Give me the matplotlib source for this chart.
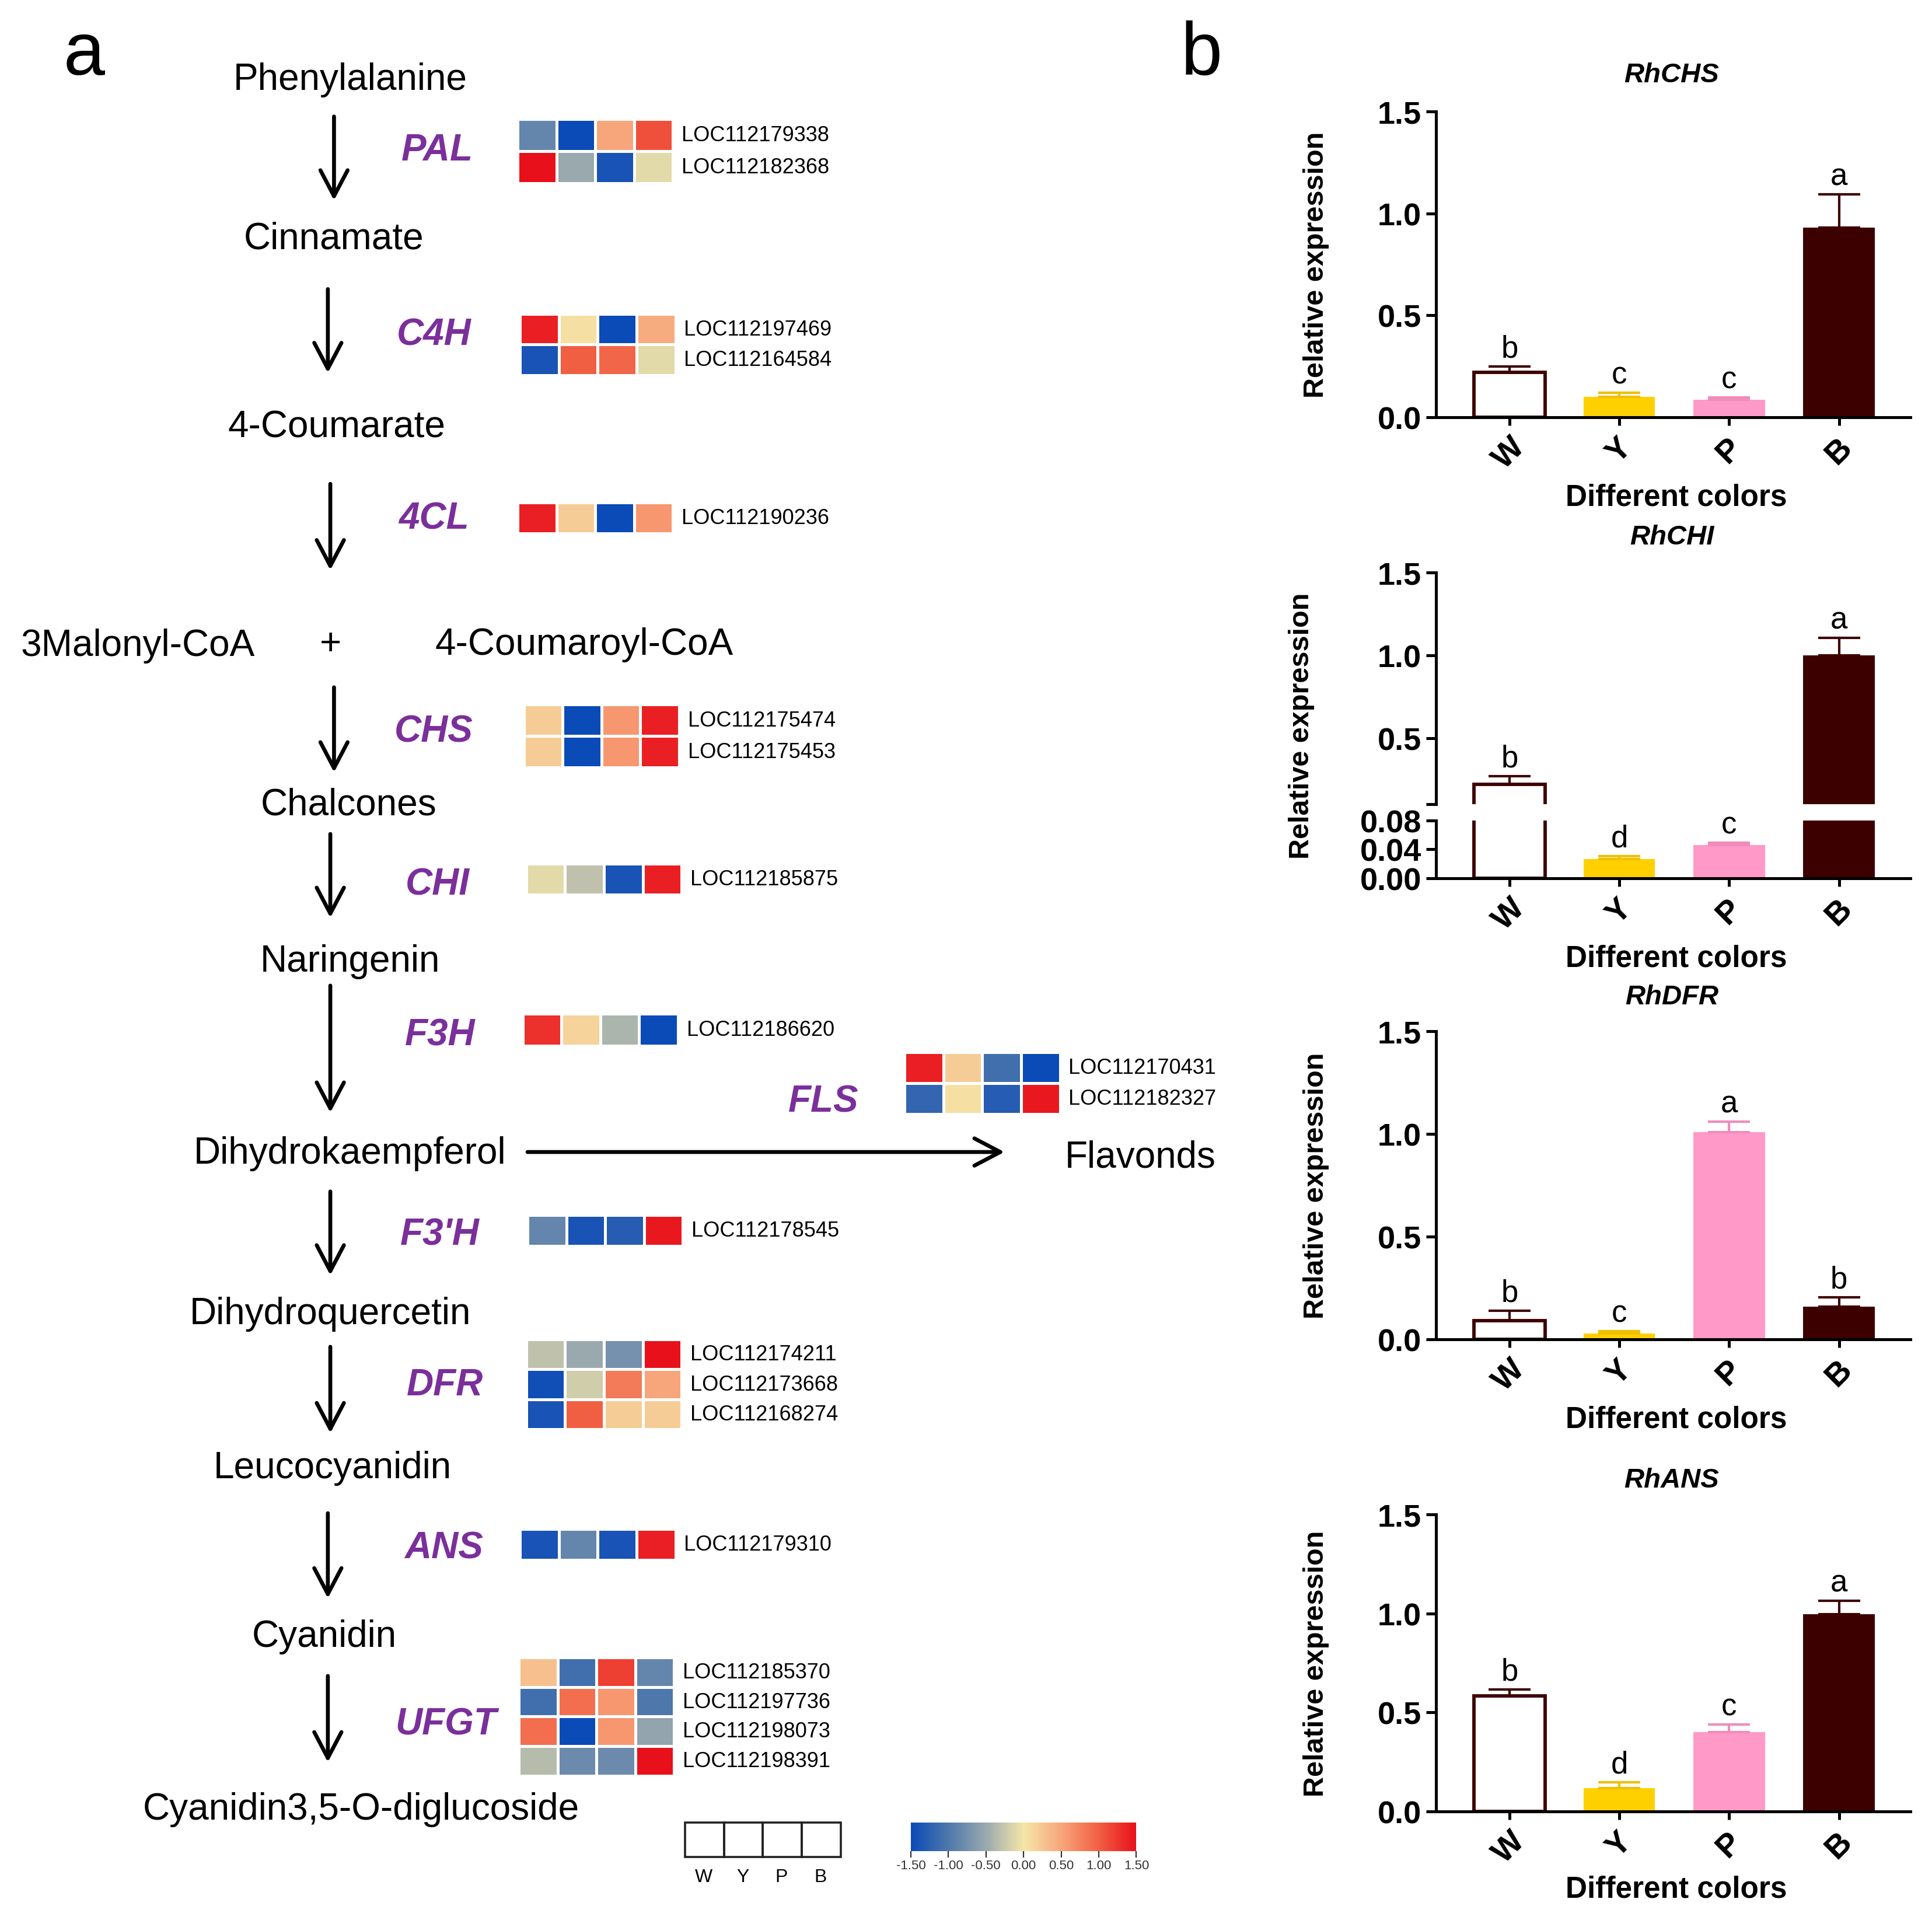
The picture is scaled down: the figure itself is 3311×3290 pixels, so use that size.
import numpy as np
import matplotlib
matplotlib.use("Agg")
import matplotlib.pyplot as plt
from matplotlib.colors import LinearSegmentedColormap, Normalize
from matplotlib.colorbar import ColorbarBase
from matplotlib.patches import Rectangle

plt.rcParams['font.family'] = ['Liberation Sans', 'DejaVu Sans']

# ---- data: pathway heatmaps (z-score, columns W Y P B) ----
samples = ["W", "Y", "P", "B"]

pal_ids = ["LOC112179338", "LOC112182368"]
pal_vals = [[-0.85, -1.5, 0.5, 1.1], [1.5, -0.5, -1.4, -0.1]]
c4h_ids = ["LOC112197469", "LOC112164584"]
c4h_vals = [[1.4, 0.05, -1.5, 0.45], [-1.4, 1.0, 0.95, -0.1]]
cl4_ids = ["LOC112190236"]
cl4_vals = [[1.4, 0.2, -1.5, 0.6]]
chs_ids = ["LOC112175474", "LOC112175453"]
chs_vals = [[0.2, -1.5, 0.6, 1.4], [0.2, -1.5, 0.6, 1.4]]
chi_ids = ["LOC112185875"]
chi_vals = [[-0.1, -0.3, -1.4, 1.4]]
f3h_ids = ["LOC112186620"]
f3h_vals = [[1.3, 0.15, -0.4, -1.5]]
fls_ids = ["LOC112170431", "LOC112182327"]
fls_vals = [[1.4, 0.2, -1.1, -1.5], [-1.2, 0.05, -1.3, 1.45]]
f3ph_ids = ["LOC112178545"]
f3ph_vals = [[-0.85, -1.4, -1.3, 1.45]]
dfr_ids = ["LOC112174211", "LOC112173668", "LOC112168274"]
dfr_vals = [[-0.3, -0.5, -0.75, 1.5], [-1.45, -0.2, 0.8, 0.5], [-1.4, 1.0, 0.2, 0.2]]
ans_ids = ["LOC112179310"]
ans_vals = [[-1.4, -0.85, -1.4, 1.4]]
ufgt_ids = ["LOC112185370", "LOC112197736", "LOC112198073", "LOC112198391"]
ufgt_vals = [[0.3, -1.1, 1.2, -0.85], [-1.1, 0.9, 0.6, -1.0],
             [0.9, -1.5, 0.6, -0.55], [-0.35, -0.8, -0.8, 1.5]]

# ---- data: qRT-PCR ----
qpcr_cats = ["W", "Y", "P", "B"]
chs_mean = [0.22, 0.10, 0.085, 0.93]
chs_err = [0.03, 0.02, 0.012, 0.165]
chs_sig = ["b", "c", "c", "a"]
chi_mean = [0.22, 0.027, 0.046, 1.00]
chi_err = [0.05, 0.004, 0.003, 0.105]
chi_sig = ["b", "d", "c", "a"]
dfr_mean = [0.09, 0.03, 1.01, 0.16]
dfr_err = [0.05, 0.01, 0.05, 0.045]
dfr_sig = ["b", "c", "a", "b"]
ans_mean = [0.585, 0.118, 0.40, 0.995]
ans_err = [0.03, 0.03, 0.04, 0.07]
ans_sig = ["b", "d", "c", "a"]

bar_fill = ["white", "#FFD000", "#FF99C8", "#3D0000"]
bar_edge = ["#3D0000", "#FFD000", "#FF99C8", "#3D0000"]
err_col = ["#3D0000", "#F0C000", "#F08CBB", "#3D0000"]

W, H = 1568, 1558
fig = plt.figure(figsize=(16.56, 16.455), dpi=200)
ax = fig.add_axes([0, 0, 1, 1])
ax.set_xlim(0, W)
ax.set_ylim(H, 0)
ax.axis("off")

cmap = LinearSegmentedColormap.from_list("hm", [
    (0.0, "#0b4bb7"), (0.167, "#4f78ab"), (0.333, "#9aa9ae"),
    (0.5, "#f5e6a8"), (0.667, "#f7a67c"), (0.833, "#f16043"), (1.0, "#e8101b")])
norm = Normalize(-1.5, 1.5)

purple = "#7b2f9b"
met_fs = 23

# metabolites
mets = [("Phenylalanine", 284, 65), ("Cinnamate", 271, 194), ("4-Coumarate", 273, 347),
        ("3Malonyl-CoA", 112, 524), ("+", 268, 523), ("4-Coumaroyl-CoA", 474, 523),
        ("Chalcones", 283, 653), ("Naringenin", 284, 780), ("Dihydrokaempferol", 284, 936),
        ("Flavonds", 925, 939), ("Dihydroquercetin", 268, 1066), ("Leucocyanidin", 270, 1191),
        ("Cyanidin", 263, 1328), ("Cyanidin3,5-O-diglucoside", 293, 1468)]
for t, x, y in mets:
    ax.text(x, y, t, ha="center", va="center", fontsize=met_fs)

# arrows
arrows = [(271, 95, 163), (266, 235, 303), (268, 393, 463), (271, 558, 627), (268, 677, 745),
          (268, 800, 903), (268, 967, 1035), (268, 1093, 1163), (266, 1228, 1297), (266, 1360, 1430)]
aprops = dict(arrowstyle="->,head_length=0.8,head_width=0.42", lw=2.4, color="black",
              mutation_scale=20, shrinkA=0, shrinkB=0)
for x, y0, y1 in arrows:
    ax.annotate("", xy=(x, y1), xytext=(x, y0), arrowprops=aprops)
ax.annotate("", xy=(815, 935), xytext=(428, 935), arrowprops=aprops)

# heatmaps
blocks = [("PAL", 355, 122, pal_ids, pal_vals, 420, 97, 26),
          ("C4H", 352, 272, c4h_ids, c4h_vals, 422, 255, 25),
          ("4CL", 352, 421, cl4_ids, cl4_vals, 420, 408, 25),
          ("CHS", 352, 594, chs_ids, chs_vals, 425, 572, 25.5),
          ("CHI", 355, 718, chi_ids, chi_vals, 427, 701, 25),
          ("F3H", 357, 840, f3h_ids, f3h_vals, 424, 823, 26),
          ("FLS", 668, 894, fls_ids, fls_vals, 734, 854, 25),
          ("F3'H", 357, 1002, f3ph_ids, f3ph_vals, 428, 986, 25),
          ("DFR", 361, 1124, dfr_ids, dfr_vals, 427, 1087, 24.3),
          ("ANS", 360, 1256, ans_ids, ans_vals, 422, 1241, 25),
          ("UFGT", 362, 1399, ufgt_ids, ufgt_vals, 421, 1345, 24)]
cw = 31.5
for gene, gx, gy, ids, vals, x0, y0, rh in blocks:
    ax.text(gx, gy, gene, ha="center", va="center", fontsize=23,
            fontweight="bold", fontstyle="italic", color=purple)
    v = np.array(vals)
    xs = x0 + cw * np.arange(5)
    ys = y0 + rh * np.arange(v.shape[0] + 1)
    ax.pcolormesh(xs, ys, v, cmap=cmap, norm=norm, edgecolors="white", linewidth=1.2)
    for i, name in enumerate(ids):
        ax.text(xs[-1] + 7, y0 + rh * (i + 0.5), name, ha="left", va="center", fontsize=13)

# sample legend boxes
for i, s in enumerate(samples):
    ax.add_patch(Rectangle((556 + i * 31.5, 1479), 31.5, 28, fill=False, lw=1.3, ec="#222222"))
    ax.text(571 + i * 31.5, 1523, s, ha="center", va="center", fontsize=11.5)

# colour scale
cax = fig.add_axes([739 / W, 1 - 1502 / H, (922 - 739) / W, 23 / H])
cb = ColorbarBase(cax, cmap=cmap, norm=norm, orientation="horizontal",
                  ticks=[-1.5, -1.0, -0.5, 0, 0.5, 1.0, 1.5])
cb.outline.set_visible(False)
cb.ax.set_xticklabels(["-1.50", "-1.00", "-0.50", "0.00", "0.50", "1.00", "1.50"])
cb.ax.tick_params(labelsize=8, length=4, width=0.8, pad=1, colors="#333333")

# panel letters
ax.text(68, 45, "a", ha="center", va="center", fontsize=46)
ax.text(975, 45, "b", ha="center", va="center", fontsize=46)


def make_ax(x0, ytop, x1, ybot):
    return fig.add_axes([x0 / W, 1 - ybot / H, (x1 - x0) / W, (ybot - ytop) / H])


def style(a, bottom=True):
    for sp in ["top", "right"]:
        a.spines[sp].set_visible(False)
    a.spines["left"].set_linewidth(1.8)
    a.spines["bottom"].set_linewidth(1.8)
    if not bottom:
        a.spines["bottom"].set_visible(False)
    a.tick_params(axis="y", width=1.8, length=6, labelsize=19.5, pad=3)
    a.tick_params(axis="x", width=1.8, length=5, labelsize=20, pad=4)
    for lab in a.get_yticklabels():
        lab.set_fontweight("bold")
    a.set_xlim(-0.67, 3.65)


def bars(a, means, errs, sig=None):
    x = np.arange(len(means))
    for i in range(len(means)):
        a.bar(x[i], means[i], width=0.65, color=bar_fill[i], edgecolor=bar_edge[i],
              linewidth=2.1 if i == 0 else 0, zorder=2)
        a.errorbar(x[i], means[i], yerr=[[0], [errs[i]]], fmt="none", ecolor=err_col[i],
                   elinewidth=1.5, capsize=13, capthick=1.5, zorder=3)
        if sig is not None and sig[i] is not None:
            a.annotate(sig[i], (x[i], means[i] + errs[i]), xytext=(0, 2),
                       textcoords="offset points", ha="center", va="bottom", fontsize=19,
                       annotation_clip=False)


def simple_chart(means, errs, sig, name, ytop, ybot, xlab_y, title_y):
    a = make_ax(1165, ytop, 1550, ybot)
    bars(a, means, errs, sig)
    a.set_ylim(0, 1.5)
    a.set_yticks([0, 0.5, 1.0, 1.5])
    a.set_yticklabels(["0.0", "0.5", "1.0", "1.5"])
    a.set_xticks(range(4))
    a.set_xticklabels(qpcr_cats, rotation=45, ha="center", fontweight="bold")
    style(a)
    h = ybot - ytop
    a.set_ylabel("Relative expression", fontsize=17.5, fontweight="bold")
    a.yaxis.set_label_coords(-0.225, 0.5)
    a.set_xlabel("Different colors", fontsize=18.5, fontweight="bold", va="center")
    a.xaxis.set_label_coords(0.506, -(xlab_y - ybot) / h)
    a.text(0.497, 1 + (ytop - title_y) / h, name, transform=a.transAxes, ha="center",
           va="center", fontsize=17, fontweight="bold", fontstyle="italic")
    return a


simple_chart(chs_mean, chs_err, chs_sig, "RhCHS", 91, 339, 404, 61)
simple_chart(dfr_mean, dfr_err, dfr_sig, "RhDFR", 837, 1087, 1152, 809)
simple_chart(ans_mean, ans_err, ans_sig, "RhANS", 1229, 1470, 1533, 1201)

# broken-axis chart for RhCHI
up = make_ax(1165, 465, 1550, 653)
lo = make_ax(1165, 666, 1550, 713)
up_sig = [chi_sig[0], None, None, chi_sig[3]]
lo_sig = [None, chi_sig[1], chi_sig[2], None]
bars(up, chi_mean, chi_err, up_sig)
bars(lo, chi_mean, chi_err, lo_sig)
up.set_ylim(0.1, 1.5)
up.set_yticks([0.1, 0.5, 1.0, 1.5])
up.set_yticklabels(["", "0.5", "1.0", "1.5"])
up.set_xticks([])
style(up, bottom=False)
lo.set_ylim(0, 0.08)
lo.set_yticks([0, 0.04, 0.08])
lo.set_yticklabels(["0.00", "0.04", "0.08"])
lo.set_xticks(range(4))
lo.set_xticklabels(qpcr_cats, rotation=45, ha="center", fontweight="bold")
style(lo)
lo.set_xlabel("Different colors", fontsize=18.5, fontweight="bold", va="center")
lo.xaxis.set_label_coords(0.506, -(778 - 713) / (713 - 666))
up.set_ylabel("Relative expression", fontsize=17.5, fontweight="bold")
up.yaxis.set_label_coords(-0.255, (653 - 589) / (653 - 465))
up.text(0.497, 1 + (465 - 436) / (653 - 465), "RhCHI", transform=up.transAxes, ha="center",
        va="center", fontsize=17, fontweight="bold", fontstyle="italic")

fig.savefig("out.png", dpi=200, facecolor="white")
